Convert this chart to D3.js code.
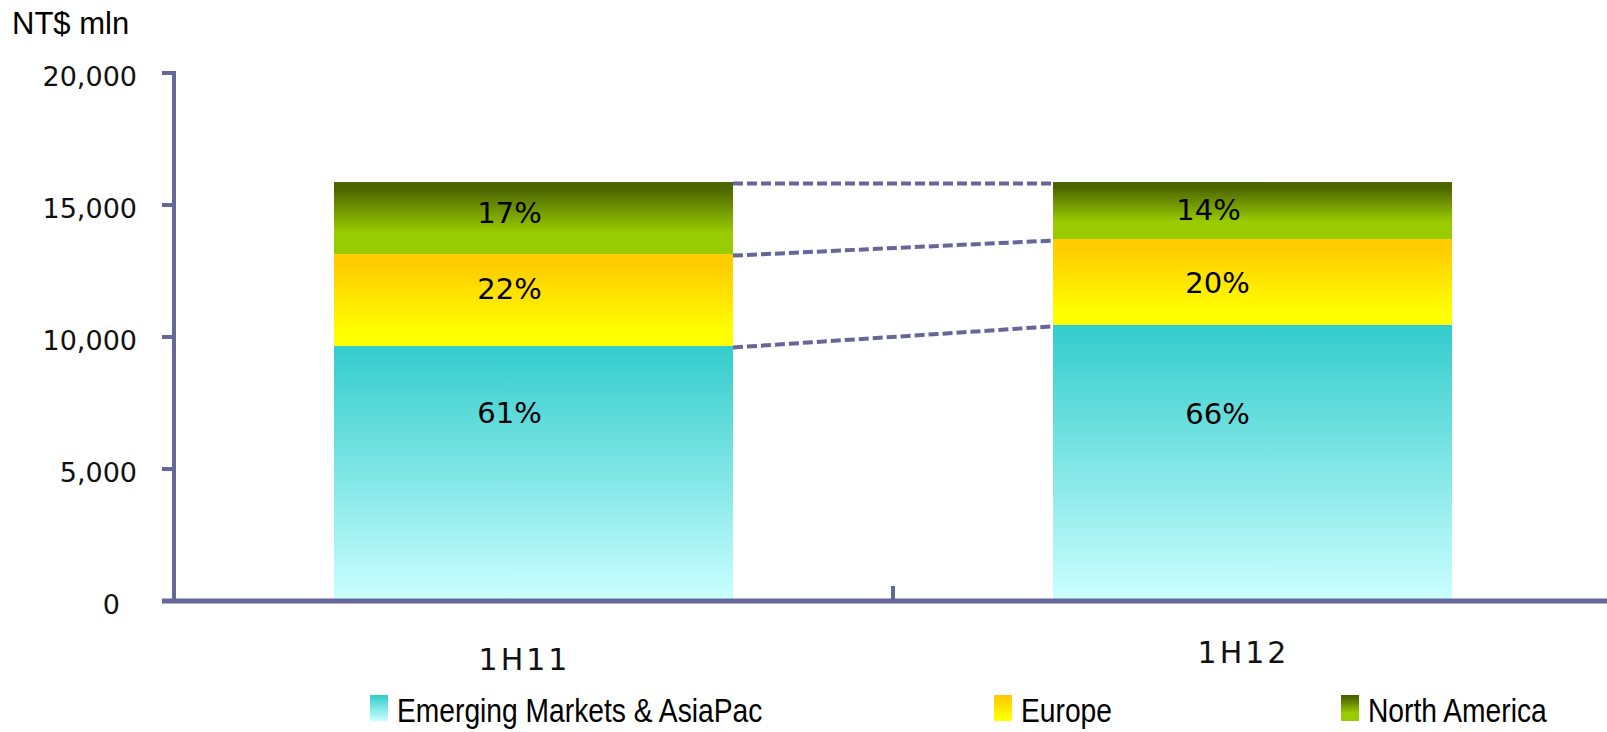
<!DOCTYPE html>
<html>
<head>
<meta charset="utf-8">
<script src="https://cdn.jsdelivr.net/npm/d3@7"></script>
<style>
  body { margin: 0; background: #fff; }
  svg { display: block; }
</style>
</head>
<body>
<svg id="chart" width="1607" height="732"></svg>
<script>
// values (NT$ mln)
const categories = ["1H11", "1H12"];
const seriesNames = ["Emerging Markets & AsiaPac", "Europe", "North America"];
const emerging = [9660, 10460];
const europe = [3480, 3250];
const northAmerica = [2730, 2160];
const shareLabels = [["61%", "22%", "17%"], ["66%", "20%", "14%"]];
const yTicks = [0, 5000, 10000, 15000, 20000];

const axisColor = "#666699";
const svg = d3.select("#chart");

// gradients, top colour -> bottom colour
const gradients = [
    [[0, "#33CCCC"], [1, "#CCFFFF"]],
    [[0, "#FFCC00"], [0.12, "#FFCC00"], [0.85, "#FFFF00"], [1, "#FFFF00"]],
    [[0, "#4B6400"], [0.1, "#4D6600"], [0.7, "#99CC00"], [1, "#99CC00"]]
];
const defs = svg.append("defs");
gradients.forEach((stops, i) => {
    const g = defs.append("linearGradient")
        .attr("id", "grad" + i)
        .attr("x1", 0).attr("y1", 0).attr("x2", 0).attr("y2", 1);
    stops.forEach(s => g.append("stop").attr("offset", s[0]).attr("stop-color", s[1]));
});

const table = categories.map((c, i) => ({
    cat: c,
    [seriesNames[0]]: emerging[i],
    [seriesNames[1]]: europe[i],
    [seriesNames[2]]: northAmerica[i]
}));
const stacked = d3.stack().keys(seriesNames)(table);

const x = d3.scaleBand().domain(categories).range([174, 1612]);
const y = d3.scaleLinear().domain([0, 20000]).range([601, 73]);
const barWidth = 399;
const barLeft = c => x(c) + (x.bandwidth() - barWidth) / 2;

// bars
stacked.forEach((layer, si) => {
    svg.append("g").selectAll("rect")
        .data(layer)
        .join("rect")
        .attr("x", d => barLeft(d.data.cat))
        .attr("y", d => y(d[1]))
        .attr("width", barWidth)
        .attr("height", d => y(d[0]) - y(d[1]))
        .attr("fill", `url(#grad${si})`);
});

// dashed connectors between the bars
const connectors = stacked.map(layer => layer.map(d => d[1]));
connectors.forEach(v => {
    svg.append("line")
        .attr("x1", barLeft(categories[0]) + barWidth)
        .attr("y1", y(v[0]) + 1.5)
        .attr("x2", barLeft(categories[1]))
        .attr("y2", y(v[1]) + 1.5)
        .attr("stroke", axisColor)
        .attr("stroke-width", 4)
        .attr("stroke-dasharray", "10,4");
});

// share labels inside segments
const labelDx = [-24, -35];
const labelLift = [[0.737, 0.625, 0.576], [0.68, 0.49, 0.526]];
stacked.forEach((layer, si) => {
    layer.forEach((d, ci) => {
        const yc = y(d[0]) - labelLift[ci][si] * (y(d[0]) - y(d[1]));
        svg.append("text")
            .attr("x", x(d.data.cat) + x.bandwidth() / 2 + labelDx[ci] + (ci == 1 && si == 2 ? -9 : 0))
            .attr("y", yc)
            .attr("dy", "0.36em")
            .attr("text-anchor", "middle")
            .style("font-family", "'DejaVu Sans', Verdana, sans-serif")
            .style("font-size", "29px")
            .attr("fill", "#000")
            .text(shareLabels[ci][si]);
    });
});

// y axis
const yAxis = svg.append("g");
yAxis.append("line")
    .attr("x1", 174).attr("x2", 174)
    .attr("y1", y(20000) - 2).attr("y2", y(0))
    .attr("stroke", axisColor).attr("stroke-width", 4);
yAxis.selectAll(".tick")
    .data(yTicks)
    .join("line")
    .attr("x1", 162).attr("x2", 174)
    .attr("y1", d => y(d)).attr("y2", d => y(d))
    .attr("stroke", axisColor).attr("stroke-width", 4);
yAxis.selectAll("text")
    .data(yTicks)
    .join("text")
    .attr("x", d => d == 0 ? 120 : 137)
    .attr("y", d => y(d) + 13)
    .attr("text-anchor", "end")
    .style("font-family", "'DejaVu Sans', Verdana, sans-serif")
    .style("font-size", "27px")
    .attr("fill", "#111")
    .text(d => d3.format(",")(d));

// x axis
svg.append("line")
    .attr("x1", 162).attr("x2", 1607)
    .attr("y1", y(0)).attr("y2", y(0))
    .attr("stroke", axisColor).attr("stroke-width", 5);
svg.append("line")
    .attr("x1", x(categories[1])).attr("x2", x(categories[1]))
    .attr("y1", y(0) - 15).attr("y2", y(0))
    .attr("stroke", axisColor).attr("stroke-width", 4);

const catDy = [0, -7];
svg.append("g").selectAll("text")
    .data(categories)
    .join("text")
    .attr("x", d => x(d) + x.bandwidth() / 2 - 9)
    .attr("y", (d, i) => 670 + catDy[i])
    .attr("text-anchor", "middle")
    .style("font-family", "'DejaVu Sans', Verdana, sans-serif")
    .style("font-size", "30px")
    .style("letter-spacing", "3px")
    .attr("fill", "#111")
    .text(d => d);

// unit label
svg.append("text")
    .attr("x", 12).attr("y", 34)
    .style("font-family", "'Liberation Sans', Arial, sans-serif")
    .style("font-size", "31px")
    .attr("fill", "#000")
    .text("NT$ mln");

// legend (narrow text: no Arial Narrow here, so squeeze Liberation Sans)
const legendX = [370, 994, 1341];
const legend = svg.append("g").selectAll("g")
    .data(seriesNames)
    .join("g")
    .attr("transform", (d, i) => `translate(${legendX[i]},695)`);
legend.append("rect")
    .attr("width", 18).attr("height", 26)
    .attr("fill", (d, i) => `url(#grad${i})`);
legend.append("text")
    .attr("transform", "translate(27,27) scale(0.83,1)")
    .style("font-family", "'Liberation Sans', Arial, sans-serif")
    .style("font-size", "34px")
    .attr("fill", "#000")
    .text(d => d);
</script>
</body>
</html>
